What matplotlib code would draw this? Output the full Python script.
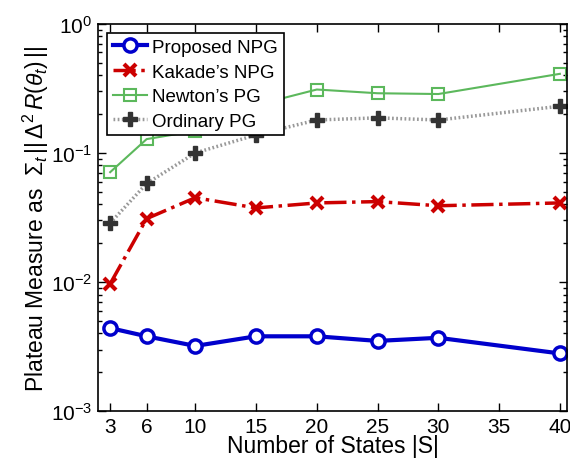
import matplotlib
matplotlib.use("Agg")
import matplotlib.pyplot as plt

plt.rcParams["font.family"] = ["Liberation Sans", "DejaVu Sans"]
plt.rcParams["mathtext.fontset"] = "custom"
plt.rcParams["mathtext.rm"] = "Liberation Sans"
plt.rcParams["mathtext.it"] = "Liberation Sans:italic"

# number of states |S|
states = [3, 6, 10, 15, 20, 25, 30, 40]

# plateau measure per method
proposed_npg = [0.0044, 0.0038, 0.0032, 0.0038, 0.0038, 0.0035, 0.0037, 0.0028]
kakade_npg = [0.0097, 0.031, 0.045, 0.0375, 0.041, 0.042, 0.039, 0.041]
newton_pg = [0.071, 0.128, 0.148, 0.235, 0.31, 0.29, 0.286, 0.41]
ordinary_pg = [0.0286, 0.058, 0.10, 0.138, 0.18, 0.187, 0.18, 0.23]

fig = plt.figure(figsize=(5.7, 4.6), dpi=100)
ax = fig.add_axes([0.172, 0.104, 0.823, 0.842])

ax.plot(states, proposed_npg, color=(0, 0, 0.8), lw=3, marker="o", ms=9.5,
        mfc="white", mec=(0, 0, 0.8), mew=2.5, label="Proposed NPG")
ax.plot(states, kakade_npg, color=(0.8, 0, 0), lw=2.5, ls="-.", marker="x",
        ms=8, mew=3, label="Kakade\u2019s NPG")
ax.plot(states, newton_pg, color=(0.36, 0.72, 0.36), lw=1.5, marker="s",
        ms=8, mfc="none", mew=1.5, label="Newton\u2019s PG")
ax.plot(states, ordinary_pg, color=(0.6, 0.6, 0.6), lw=2.5, ls=(0, (0.5, 0.7)),
        marker="P", ms=10.5, mfc=(0.2, 0.2, 0.2), mec=(0.2, 0.2, 0.2),
        label="Ordinary PG")

ax.set_yscale("log")
ax.set_ylim(1e-3, 1)
ax.set_xlim(2, 40.6)
ax.set_xticks(states[:-1] + [35, 40])
ax.set_xticklabels([str(v) for v in [3, 6, 10, 15, 20, 25, 30, 35, 40]])

ax.tick_params(which="both", direction="in", top=True, right=True,
               labelsize=15, width=1)
ax.tick_params(which="major", length=6, pad=4)
ax.tick_params(which="minor", length=3)
for s in ax.spines.values():
    s.set_linewidth(1.2)

ax.set_xlabel("Number of States |S|", fontsize=16.5, labelpad=-1)
ax.set_ylabel(r"Plateau Measure as  $\Sigma_t\,||\,\Delta^2\,R(\theta_t)\,||$",
              fontsize=16.5, labelpad=0)

leg = ax.legend(loc="upper left", fontsize=13.5, frameon=True, fancybox=False,
                edgecolor="black", framealpha=1, borderpad=0.3, labelspacing=0.4,
                handlelength=1.8, handletextpad=0.3, borderaxespad=0.5)
leg.get_frame().set_linewidth(1.2)

fig.savefig("out.png", dpi=100)
